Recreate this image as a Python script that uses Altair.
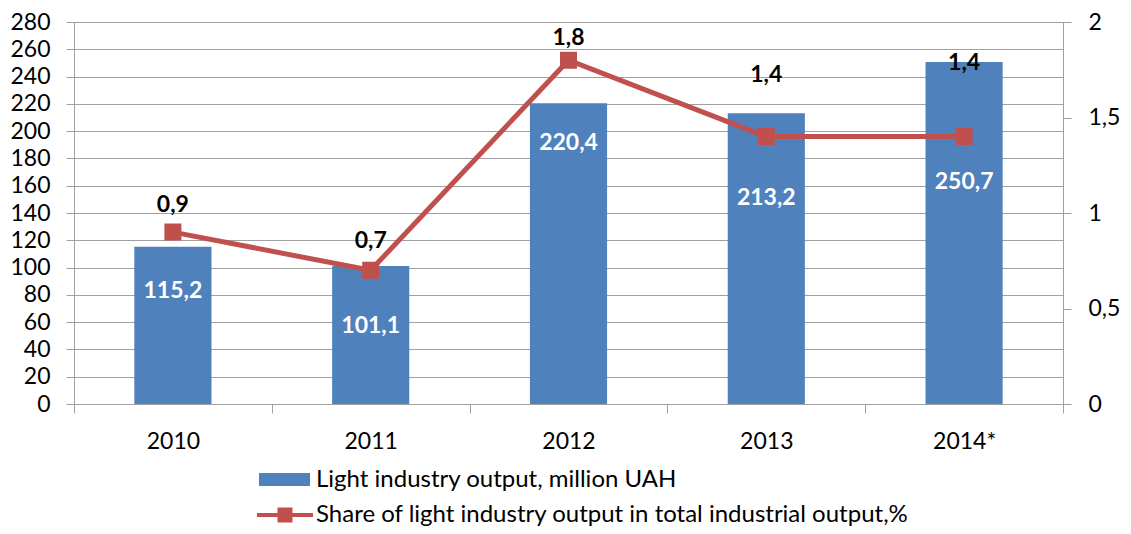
import altair as alt
import pandas as pd

years = ["2010", "2011", "2012", "2013", "2014*"]
output_mln_uah = [115.2, 101.1, 220.4, 213.2, 250.7]
share_pct = [0.9, 0.7, 1.8, 1.4, 1.4]
# where the data labels sit, in each axis' own units (as placed in the original)
bar_label_at = [83, 57, 191, 151, 163]
line_label_at = [1.044, 0.856, 1.916, 1.723, 1.786]
left_ticks = [0, 20, 40, 60, 80, 100, 120, 140, 160, 180, 200, 220, 240, 260, 280]
right_ticks = [0, 0.5, 1, 1.5, 2]

bar_name = "Light industry output, million UAH"
line_name = "Share of light industry output in total industrial output,%"

df = pd.DataFrame({
    "year": years,
    "output": output_mln_uah,
    "share": share_pct,
    "bar_pos": bar_label_at,
    "line_pos": line_label_at,
    "output_txt": [f"{v:.1f}".replace(".", ",") for v in output_mln_uah],
    "share_txt": [f"{v:.1f}".replace(".", ",") for v in share_pct],
    "bar_series": bar_name,
    "line_series": line_name,
})

FONT = "Lato"
FS = 23
LFS = 24
BLUE = "#4F81BD"
RED = "#C0504D"
GRID = "#A0A0A0"

x = alt.X("year:N", sort=years, title=None,
          scale=alt.Scale(paddingInner=0, paddingOuter=0),
          axis=alt.Axis(labelAngle=0, tickBand="extent", domainColor=GRID, tickColor=GRID,
                        tickSize=9, labelPadding=17, labelFontSize=FS, labelColor="#000",
                        labelFont=FONT, grid=False))

yl_scale = alt.Scale(domain=[0, 280], nice=False, zero=True)
yr_scale = alt.Scale(domain=[0, 2], nice=False, zero=True)

left_axis = alt.Axis(values=left_ticks, grid=True, gridColor=GRID,
                     domainColor=GRID, tickColor=GRID, tickSize=8, labelPadding=16,
                     labelFontSize=FS, labelColor="#000", labelFont=FONT,
                     labelOverlap=False, labelFlush=False)
right_axis = alt.Axis(values=right_ticks, grid=False, orient="right",
                      domainColor=GRID, tickColor=GRID, tickSize=8, labelPadding=17,
                      labelFontSize=FS, labelColor="#000", labelFont=FONT,
                      labelOverlap=False, labelFlush=False,
                      labelExpr="replace(format(datum.value, '~g'), '.', ',')")

bars = alt.Chart(df).mark_bar(width=alt.RelativeBandSize(0.39)).encode(
    x=x,
    y=alt.Y("output:Q", scale=yl_scale, title=None, axis=left_axis),
    color=alt.Color("bar_series:N", scale=alt.Scale(domain=[bar_name], range=[BLUE]),
                    legend=alt.Legend(title=None, orient="none", legendX=185, legendY=432,
                                      symbolType="M-1,-0.255L1,-0.255L1,0.255L-1,0.255Z",
                                      symbolSize=2601, symbolStrokeWidth=0,
                                      labelFontSize=LFS, labelFont=FONT, labelColor="#000",
                                      labelOffset=6, labelLimit=1000)),
)

bar_text = alt.Chart(df).mark_text(color="white", fontWeight="bold", fontSize=FS,
                                   font=FONT).encode(
    x=x,
    y=alt.Y("bar_pos:Q", scale=yl_scale, title=None, axis=left_axis),
    text="output_txt:N",
)

left = alt.layer(bars, bar_text)

line = alt.Chart(df).mark_line(
    strokeWidth=5,
    point=alt.OverlayMarkDef(shape="square", size=225, filled=True, fill=RED, color=RED),
).encode(
    x=x,
    y=alt.Y("share:Q", scale=yr_scale, title=None, axis=right_axis),
    stroke=alt.Stroke("line_series:N", scale=alt.Scale(domain=[line_name], range=[RED]),
                      legend=alt.Legend(title=None, orient="none", legendX=183, legendY=465,
                                        symbolType="M-1,-0.071L-0.268,-0.071L-0.268,-0.268L0.268,-0.268L0.268,-0.071L1,-0.071L1,0.071L0.268,0.071L0.268,0.268L-0.268,0.268L-0.268,0.071L-1,0.071Z",
                                        symbolSize=3136, symbolStrokeWidth=0,
                                        symbolFillColor=RED,
                                        labelFontSize=LFS, labelFont=FONT, labelColor="#000",
                                        labelOffset=3, labelLimit=1000)),
)

line_text = alt.Chart(df).mark_text(color="black", fontWeight="bold", fontSize=FS,
                                    font=FONT).encode(
    x=x,
    y=alt.Y("line_pos:Q", scale=yr_scale, title=None, axis=right_axis),
    text="share_txt:N",
)

right = alt.layer(line, line_text)

chart = alt.layer(left, right).resolve_scale(
    y="independent", color="independent", stroke="independent"
).properties(
    width=989, height=382,
    autosize=alt.AutoSizeParams(type="none"),
    padding={"left": 66, "top": 14, "right": 60, "bottom": 122},
).configure_view(stroke=None).configure(background="white")

chart.save("out.html", embed_options={"renderer": "svg", "actions": False})
